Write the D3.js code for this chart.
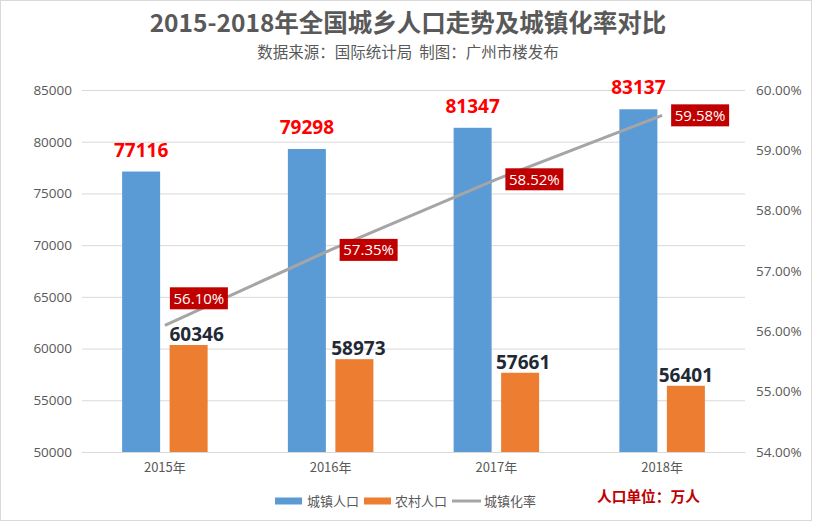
<!DOCTYPE html>
<html><head><meta charset="utf-8">
<script src="https://cdn.jsdelivr.net/npm/d3@7"></script>
<style>body{margin:0;background:#fff}svg{display:block}</style>
</head><body>
<script>
const years = ["2015年","2016年","2017年","2018年"];
const urban = [77116, 79298, 81347, 83137];
const rural = [60346, 58973, 57661, 56401];
const rate = [56.10, 57.35, 58.52, 59.58];
const leftTicks = [50000,55000,60000,65000,70000,75000,80000,85000];
const rightTicks = [54,55,56,57,58,59,60];
const titleText = "2015-2018年全国城乡人口走势及城镇化率对比";
const subtitleText = "数据来源：国际统计局  制图：广州市楼发布";
const seriesNames = ["城镇人口","农村人口","城镇化率"];
const unitText = "人口单位：万人";

const W = 813, H = 522;
const m = {left: 82, right: 68, top: 90, bottom: 70};
const svg = d3.select("body").append("svg").attr("width", W).attr("height", H);
const font = "'Noto Sans CJK SC','Noto Sans',sans-serif";
const numFont = "'Open Sans','Noto Sans',sans-serif";

svg.append("rect").attr("x",0.5).attr("y",0.5).attr("width",W-2).attr("height",H-2)
  .attr("fill","#fff").attr("stroke","#D9D9D9");

const x = d3.scaleBand().domain(years).range([m.left, W - m.right]);
const yL = d3.scaleLinear().domain([50000, 85000]).range([452, 90]);
const yR = d3.scaleLinear().domain([54, 60]).range([452, 90]);

// grid
svg.append("g").selectAll("line").data(leftTicks).join("line")
  .attr("x1", m.left).attr("x2", W - m.right)
  .attr("y1", d => yL(d) + 0.5).attr("y2", d => yL(d) + 0.5)
  .attr("stroke", "#D9D9D9").attr("stroke-width", 1);

// left axis
const gl = svg.append("g").attr("transform", `translate(${m.left},0)`)
  .call(d3.axisLeft(yL).tickValues(leftTicks).tickSize(0).tickPadding(10).tickFormat(d3.format("d")));
gl.select(".domain").remove();
gl.selectAll("text").attr("font-family", numFont).attr("font-size", 13.5).attr("fill", "#595959");

// right axis
const gr = svg.append("g").attr("transform", `translate(${W - m.right},0)`)
  .call(d3.axisRight(yR).tickValues(rightTicks).tickSize(0).tickPadding(11).tickFormat(d => d.toFixed(2) + "%"));
gr.select(".domain").remove();
gr.selectAll("text").attr("font-family", numFont).attr("font-size", 13.5).attr("fill", "#595959");

// bottom axis
const gb = svg.append("g").attr("transform", `translate(0,452)`)
  .call(d3.axisBottom(x).tickSize(0).tickPadding(11));
gb.select(".domain").attr("stroke", "#D9D9D9");
gb.selectAll("text").attr("font-family", font).attr("font-size", 13).attr("fill", "#595959");

const bw = 38, gap = 9.5;
const cx = d => x(d) + x.bandwidth() / 2;
const bxU = d => cx(d) - gap/2 - bw;
const bxR = d => cx(d) + gap/2;

svg.append("g").selectAll("rect").data(years).join("rect")
  .attr("x", (d) => bxU(d)).attr("width", bw)
  .attr("y", (d,i) => yL(urban[i])).attr("height", (d,i) => yL(50000) - yL(urban[i]))
  .attr("fill", "#5B9BD5");
svg.append("g").selectAll("rect").data(years).join("rect")
  .attr("x", (d) => bxR(d)).attr("width", bw)
  .attr("y", (d,i) => yL(rural[i])).attr("height", (d,i) => yL(50000) - yL(rural[i]))
  .attr("fill", "#ED7D31");

// line
const line = d3.line().x((d,i) => cx(years[i])).y(d => yR(d));
svg.append("path").datum(rate).attr("d", line).attr("fill","none")
  .attr("stroke","#A5A5A5").attr("stroke-width",3);

// urban labels
svg.append("g").selectAll("text").data(years).join("text")
  .attr("x", d => bxU(d) + bw/2).attr("y", (d,i) => yL(urban[i]) - 15)
  .attr("text-anchor","middle").attr("font-family", numFont).attr("font-weight","bold")
  .attr("font-size",19).attr("fill","#FF0000").text((d,i) => urban[i]);
// rural labels
const rdx = [8, 4, 3, 0];
svg.append("g").selectAll("text").data(years).join("text")
  .attr("x", (d,i) => bxR(d) + bw/2 + rdx[i]).attr("y", (d,i) => yL(rural[i]) - 4)
  .attr("text-anchor","middle").attr("font-family", numFont).attr("font-weight","bold")
  .attr("font-size",19).attr("fill","#1F2A36").text((d,i) => rural[i]);

// rate labels
const lg = svg.append("g");
rate.forEach((v,i) => {
  const px = cx(years[i]), py = yR(v);
  let bx, by;
  const w = 58, h = 22;
  if (i === 0) { bx = px + 5; by = py - 38; }
  else { bx = px + 9; by = py - h/2; }
  lg.append("rect").attr("x", bx).attr("y", by).attr("width", w).attr("height", h).attr("fill", "#C00000");
  lg.append("text").attr("x", bx + w/2).attr("y", by + h/2 + 5.5).attr("text-anchor","middle")
    .attr("font-family", numFont).attr("font-size", 15).attr("fill","#fff").text(v.toFixed(2) + "%");
});

// title
svg.append("text").attr("x", 408).attr("y", 32).attr("text-anchor","middle")
  .attr("font-family", font).attr("font-weight","bold").attr("font-size",24.5).attr("fill","#595959").text(titleText);
svg.append("text").attr("x", 408).attr("y", 58).attr("text-anchor","middle")
  .attr("font-family", font).attr("font-size",15.5).attr("fill","#595959")
  .attr("xml:space","preserve").style("white-space","pre").text(subtitleText);

// legend
const leg = svg.append("g");
leg.append("rect").attr("x",275).attr("y",497.5).attr("width",27).attr("height",7).attr("fill","#5B9BD5");
leg.append("text").attr("x",307).attr("y",506).attr("font-family",font).attr("font-size",13).attr("fill","#595959").text(seriesNames[0]);
leg.append("rect").attr("x",364).attr("y",497.5).attr("width",27).attr("height",7).attr("fill","#ED7D31");
leg.append("text").attr("x",395).attr("y",506).attr("font-family",font).attr("font-size",13).attr("fill","#595959").text(seriesNames[1]);
leg.append("line").attr("x1",452).attr("x2",481).attr("y1",501).attr("y2",501).attr("stroke","#A5A5A5").attr("stroke-width",3);
leg.append("text").attr("x",484).attr("y",506).attr("font-family",font).attr("font-size",13).attr("fill","#595959").text(seriesNames[2]);
svg.append("text").attr("x",597).attr("y",502).attr("font-family",font).attr("font-weight","bold").attr("font-size",14.7).attr("fill","#C00000").text(unitText);
</script>
</body></html>
